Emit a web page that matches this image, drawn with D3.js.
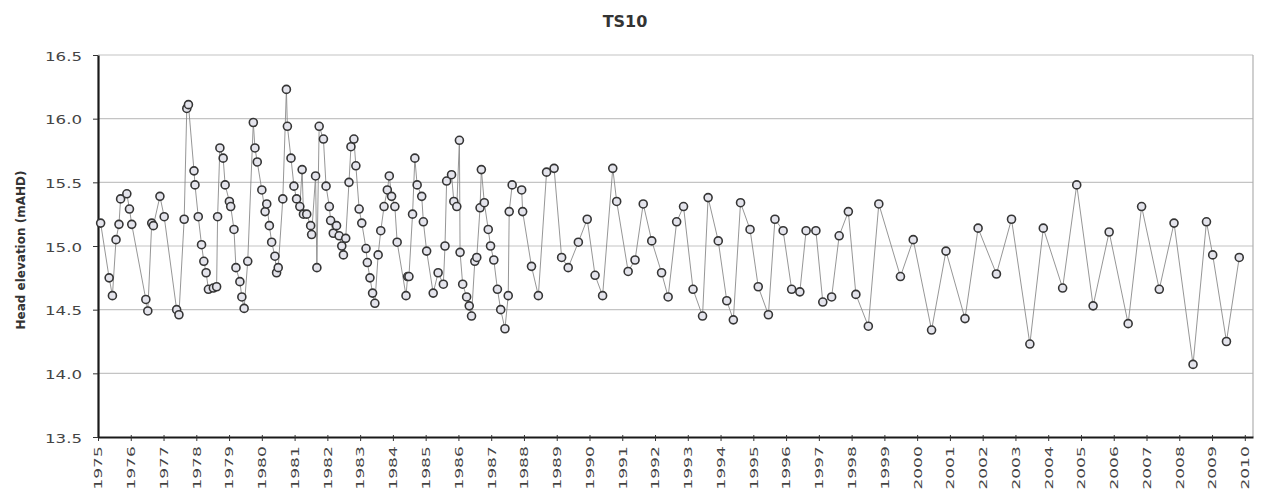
<!DOCTYPE html>
<html>
<head>
<meta charset="utf-8">
<script src="https://cdn.jsdelivr.net/npm/d3@7"></script>
<style>
  body { margin: 0; background: #fff; }
  svg { display: block; }
</style>
</head>
<body>
<svg id="chart"></svg>
<script>
const width = 1261;
const height = 498;
const margin = { top: 55, right: 8, bottom: 61, left: 98 };

const chartTitle = "TS10";
const yTitle = "Head elevation (mAHD)";

// tick labels
const yearTicks = [1975, 1976, 1977, 1978, 1979, 1980, 1981, 1982, 1983, 1984, 1985, 1986,
  1987, 1988, 1989, 1990, 1991, 1992, 1993, 1994, 1995, 1996, 1997, 1998, 1999, 2000,
  2001, 2002, 2003, 2004, 2005, 2006, 2007, 2008, 2009, 2010];
const headTicks = [13.5, 14.0, 14.5, 15.0, 15.5, 16.0, 16.5];

const dates = [
  1975.08, 1975.34, 1975.44, 1975.55, 1975.64, 1975.69, 1975.88, 1975.96, 1976.03, 1976.46,
  1976.52, 1976.64, 1976.69, 1976.89, 1977.02, 1977.40, 1977.47, 1977.63, 1977.71, 1977.76,
  1977.93, 1977.96, 1978.06, 1978.16, 1978.23, 1978.30, 1978.37, 1978.52, 1978.62, 1978.65,
  1978.72, 1978.82, 1978.88, 1979.01, 1979.05, 1979.15, 1979.21, 1979.33, 1979.39, 1979.46,
  1979.57, 1979.74, 1979.79, 1979.86, 1980.00, 1980.10, 1980.15, 1980.23, 1980.30, 1980.40,
  1980.45, 1980.50, 1980.64, 1980.75, 1980.78, 1980.89, 1980.98, 1981.06, 1981.16, 1981.23,
  1981.27, 1981.37, 1981.49, 1981.52, 1981.64, 1981.68, 1981.75, 1981.88, 1981.96, 1982.06,
  1982.10, 1982.18, 1982.28, 1982.36, 1982.44, 1982.49, 1982.56, 1982.66, 1982.72, 1982.81,
  1982.87, 1982.97, 1983.05, 1983.18, 1983.22, 1983.30, 1983.38, 1983.45, 1983.55, 1983.63,
  1983.73, 1983.83, 1983.89, 1983.96, 1984.06, 1984.13, 1984.40, 1984.45, 1984.49, 1984.60,
  1984.67, 1984.74, 1984.88, 1984.93, 1985.03, 1985.23, 1985.38, 1985.54, 1985.59, 1985.64,
  1985.79, 1985.86, 1985.95, 1986.03, 1986.05, 1986.13, 1986.25, 1986.33, 1986.40, 1986.50,
  1986.56, 1986.66, 1986.70, 1986.79, 1986.91, 1986.98, 1987.08, 1987.19, 1987.29, 1987.42,
  1987.52, 1987.55, 1987.64, 1987.93, 1987.96, 1988.23, 1988.44, 1988.69, 1988.92, 1989.15,
  1989.35, 1989.66, 1989.93, 1990.17, 1990.40, 1990.71, 1990.83, 1991.18, 1991.39, 1991.64,
  1991.90, 1992.20, 1992.40, 1992.66, 1992.87, 1993.16, 1993.45, 1993.62, 1993.93, 1994.19,
  1994.39, 1994.61, 1994.90, 1995.15, 1995.46, 1995.66, 1995.91, 1996.17, 1996.42, 1996.61,
  1996.91, 1997.12, 1997.39, 1997.62, 1997.90, 1998.13, 1998.51, 1998.83, 1999.49, 1999.88,
  2000.44, 2000.88, 2001.46, 2001.86, 2002.42, 2002.88, 2003.44, 2003.85, 2004.44, 2004.87,
  2005.37, 2005.86, 2006.44, 2006.85, 2007.39, 2007.84, 2008.42, 2008.83, 2009.02, 2009.44,
  2009.83
];

// head elevation (mAHD)
const heads = [
  15.18, 14.75, 14.61, 15.05, 15.17, 15.37, 15.41, 15.29, 15.17, 14.58,
  14.49, 15.18, 15.16, 15.39, 15.23, 14.50, 14.46, 15.21, 16.08, 16.11,
  15.59, 15.48, 15.23, 15.01, 14.88, 14.79, 14.66, 14.67, 14.68, 15.23,
  15.77, 15.69, 15.48, 15.35, 15.31, 15.13, 14.83, 14.72, 14.60, 14.51,
  14.88, 15.97, 15.77, 15.66, 15.44, 15.27, 15.33, 15.16, 15.03, 14.92,
  14.79, 14.83, 15.37, 16.23, 15.94, 15.69, 15.47, 15.37, 15.31, 15.60,
  15.25, 15.25, 15.16, 15.09, 15.55, 14.83, 15.94, 15.84, 15.47, 15.31,
  15.20, 15.10, 15.16, 15.08, 15.00, 14.93, 15.06, 15.50, 15.78, 15.84,
  15.63, 15.29, 15.18, 14.98, 14.87, 14.75, 14.63, 14.55, 14.93, 15.12,
  15.31, 15.44, 15.55, 15.39, 15.31, 15.03, 14.61, 14.76, 14.76, 15.25,
  15.69, 15.48, 15.39, 15.19, 14.96, 14.63, 14.79, 14.70, 15.00, 15.51,
  15.56, 15.35, 15.31, 15.83, 14.95, 14.70, 14.60, 14.53, 14.45, 14.88,
  14.91, 15.30, 15.60, 15.34, 15.13, 15.00, 14.89, 14.66, 14.50, 14.35,
  14.61, 15.27, 15.48, 15.44, 15.27, 14.84, 14.61, 15.58, 15.61, 14.91,
  14.83, 15.03, 15.21, 14.77, 14.61, 15.61, 15.35, 14.80, 14.89, 15.33,
  15.04, 14.79, 14.60, 15.19, 15.31, 14.66, 14.45, 15.38, 15.04, 14.57,
  14.42, 15.34, 15.13, 14.68, 14.46, 15.21, 15.12, 14.66, 14.64, 15.12,
  15.12, 14.56, 14.60, 15.08, 15.27, 14.62, 14.37, 15.33, 14.76, 15.05,
  14.34, 14.96, 14.43, 15.14, 14.78, 15.21, 14.23, 15.14, 14.67, 15.48,
  14.53, 15.11, 14.39, 15.31, 14.66, 15.18, 14.07, 15.19, 14.93, 14.25,
  14.91
];

const data = dates.map((d, i) => ({ date: d, head: heads[i] }));

const svg = d3.select("#chart")
  .attr("width", width)
  .attr("height", height);

const x = d3.scaleLinear()
  .domain([1975, 2010.25])
  .range([margin.left, width - margin.right]);

const y = d3.scaleLinear()
  .domain([13.5, 16.5])
  .range([height - margin.bottom, margin.top]);

// gridlines
svg.append("g")
  .selectAll("line")
  .data(headTicks.slice(1))
  .enter().append("line")
  .attr("x1", x.range()[0])
  .attr("x2", x.range()[1])
  .attr("y1", d => y(d))
  .attr("y2", d => y(d))
  .attr("stroke", "#c4c4c4")
  .attr("stroke-width", 1.2);

// right border
svg.append("line")
  .attr("x1", x.range()[1]).attr("x2", x.range()[1])
  .attr("y1", y(16.5)).attr("y2", y(13.5))
  .attr("stroke", "#b0b0b0")
  .attr("stroke-width", 1.2);

// x axis
const xAxis = svg.append("g")
  .attr("transform", `translate(0,${y(13.5)})`)
  .call(d3.axisBottom(x).tickValues(yearTicks).tickFormat(d3.format("d")).tickSize(4).tickSizeOuter(0));

xAxis.select(".domain").attr("stroke", "#1a1a1a").attr("stroke-width", 2.2);
xAxis.selectAll(".tick line").attr("stroke", "#333").attr("y1", -2);
xAxis.selectAll(".tick text")
  .attr("y", 0)
  .attr("x", -6)
  .attr("dy", "0.35em")
  .attr("transform", "rotate(-90) scale(1.55,1)")
  .style("text-anchor", "end")
  .style("font-family", "DejaVu Sans")
  .style("font-size", "11px")
  .attr("fill", "#444");

// y axis
const yAxis = svg.append("g")
  .attr("transform", `translate(${x(1975)},0)`)
  .call(d3.axisLeft(y).tickValues(headTicks).tickFormat(d3.format(".1f")).tickSize(5).tickSizeOuter(0));

yAxis.select(".domain").attr("stroke", "#1a1a1a").attr("stroke-width", 2.2);
yAxis.selectAll(".tick line").attr("stroke", "#333");
yAxis.selectAll(".tick text")
  .attr("x", -12.5)
  .attr("dy", "0.4em")
  .attr("transform", "scale(1.28,1)")
  .style("font-family", "DejaVu Sans")
  .style("font-size", "13px")
  .attr("fill", "#444");

// series line
const line = d3.line()
  .x(d => x(d.date))
  .y(d => y(d.head));

svg.append("path")
  .datum(data)
  .attr("fill", "none")
  .attr("stroke", "#8a8a8a")
  .attr("stroke-width", 0.9)
  .attr("d", line);

// markers
svg.append("g")
  .selectAll("circle")
  .data(data)
  .enter().append("circle")
  .attr("cx", d => x(d.date))
  .attr("cy", d => y(d.head))
  .attr("r", 4)
  .attr("fill", "#e4e4ec")
  .attr("stroke", "#353535")
  .attr("stroke-width", 1.6);

// titles
svg.append("text")
  .attr("x", 625)
  .attr("y", 27)
  .attr("text-anchor", "middle")
  .style("font-family", "DejaVu Sans")
  .style("font-weight", "bold")
  .style("font-size", "16px")
  .attr("fill", "#333")
  .text(chartTitle);

svg.append("text")
  .attr("transform", `translate(25,${(y(16.5) + y(13.5)) / 2 + 4}) rotate(-90)`)
  .attr("text-anchor", "middle")
  .style("font-family", "DejaVu Sans")
  .style("font-weight", "bold")
  .style("font-size", "12px")
  .attr("fill", "#333")
  .text(yTitle);
</script>
</body>
</html>
